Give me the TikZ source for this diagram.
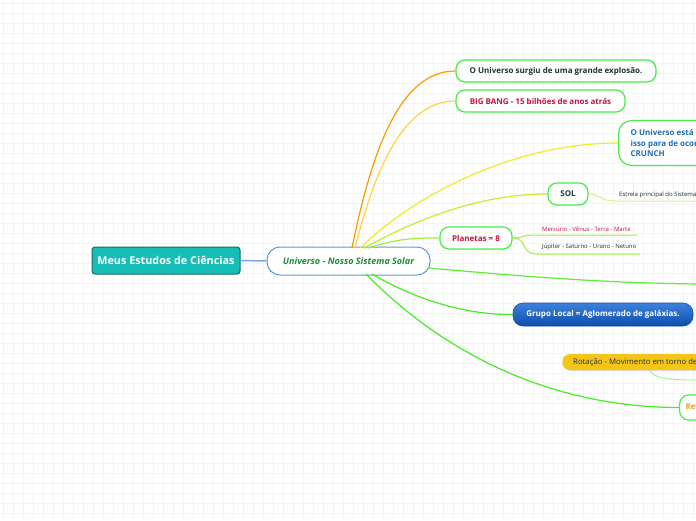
\documentclass[tikz,border=0pt]{standalone}
\usepackage{fontspec}
\setmainfont{Open Sans}
\usetikzlibrary{shadows}
\definecolor{gridc}{HTML}{F4F4F4}
\definecolor{tealfill}{HTML}{15BFB6}
\definecolor{tealdraw}{HTML}{0F6E69}
\definecolor{mainblue}{HTML}{5B9BD5}
\definecolor{linkblue}{HTML}{7AA6F0}
\definecolor{scriptgreen}{HTML}{1B8C3A}
\definecolor{boxgreen}{HTML}{44EE44}
\definecolor{darktxt}{HTML}{1E3535}
\definecolor{crimson}{HTML}{C8123F}
\definecolor{bluetxt}{HTML}{1D6DB5}
\definecolor{corange}{HTML}{FF9A00}
\definecolor{cgold}{HTML}{FFD23F}
\definecolor{cyellow}{HTML}{EEEE22}
\definecolor{cyg}{HTML}{C4EE30}
\definecolor{clg}{HTML}{A2EE40}
\definecolor{cgreen}{HTML}{5EEE38}
\definecolor{cgreen2}{HTML}{44EE22}
\definecolor{subline}{HTML}{DDEE88}
\definecolor{rotfill}{HTML}{F5C518}
\definecolor{gtop}{HTML}{3C82DC}
\definecolor{gbot}{HTML}{0E4DAE}
\definecolor{orangetxt}{HTML}{F0A030}
\tikzset{
  rootbox/.style={draw=tealdraw, line width=1pt, fill=tealfill, rounded corners=3pt,
    text=white, font=\fontsize{10.8}{12}\selectfont\bfseries, minimum width=148pt, minimum height=27pt, inner sep=0pt},
  mainbox/.style={draw=mainblue, line width=1pt, fill=white, rounded corners=13pt,
    text=scriptgreen, font=\fontsize{9}{11}\selectfont\itshape\bfseries, minimum width=163pt, minimum height=28pt, inner sep=0pt},
  topicbox/.style={draw=boxgreen, line width=1.2pt, fill=white, rounded corners=9pt,
    font=\fontsize{8}{10.5}\selectfont\bfseries, inner sep=0pt, minimum height=22pt},
  subtext/.style={font=\fontsize{6}{7}\selectfont, inner sep=0pt, anchor=south west},
  link/.style={line width=1.2pt},
}
\begin{document}
\begin{tikzpicture}[x=1pt,y=-1pt]
\useasboundingbox (0,0) rectangle (696,520);
\clip (0,0) rectangle (696,520);
\fill[white] (0,0) rectangle (696,520);
\draw[gridc, line width=0.4pt] foreach \i in {3,13,...,523} {(0,\i) -- (696,\i)};
\draw[gridc, line width=0.4pt] foreach \i in {3,13,...,703} {(\i,0) -- (\i,520)};

\coordinate (mt1) at (352,248);
\coordinate (mt2) at (355,248);
\coordinate (mt3) at (360,248);
\coordinate (mt4) at (364,248);
\coordinate (mt5) at (368,248);
\coordinate (mr) at (428,268);
\coordinate (mb1) at (372,274);
\coordinate (mb2) at (366,274);
\coordinate (edge1) at (700,284);

% nodes
\node[rootbox] (root) at (166,260.5) {Meus Estudos de Ciências};
\node[mainbox] (main) at (348.5,261) {Universo - Nosso Sistema Solar};

\node[topicbox, text=darktxt, minimum width=200pt] (n1) at (556,71) {O Universo surgiu de uma grande explosão.};
\node[topicbox, text=crimson, minimum width=169pt] (n2) at (540.5,101) {BIG BANG - 15 bilhões de anos atrás};
\node[topicbox, text=bluetxt, minimum height=45pt, align=left, anchor=west, inner xsep=12pt, rounded corners=13pt] (n3) at (618,143) {O Universo está em expansão, mas há quem diga\\isso para de ocorrer no BIG\\CRUNCH};
\node[topicbox, text=darktxt, minimum width=40pt] (sol) at (568,194) {SOL};
\node[topicbox, text=crimson, minimum width=72pt] (plan) at (476,238) {Planetas = 8};
\node[draw=gbot, line width=0.6pt, top color=gtop, bottom color=gbot, rounded corners=10pt,
      text=white, font=\fontsize{8}{10}\selectfont\bfseries, minimum width=180pt, minimum height=23pt, inner sep=0pt] (grupo) at (603,314.5) {Grupo Local = Aglomerado de galáxias.};
\node[fill=rotfill, rounded corners=8pt, drop shadow={opacity=0.25, shadow xshift=0.5pt, shadow yshift=-1pt},
      text=darktxt, font=\fontsize{7.8}{9}\selectfont, minimum height=16pt, inner sep=0pt, inner xsep=11pt, anchor=west] (rot) at (562,362) {Rotação - Movimento em torno de si mesmo};
\node[topicbox, text=orangetxt, minimum height=25pt, anchor=west, inner xsep=6pt] (rev) at (679,407.5) {Revolução};

% sub texts
\node[subtext, text=darktxt] (s1) at (619,198.5) {Estrela principal do Sistema Solar};
\node[subtext, text=crimson] (m1) at (542,231.5) {Mercúrio - Vênus - Terra - Marte};
\node[subtext, text=darktxt] (m2) at (542,250.5) {Júpiter - Saturno - Urano - Netuno};
\coordinate (u1a) at (615,201);
\coordinate (u2a) at (537,235);
\coordinate (u2b) at (637,235);
\coordinate (u3a) at (537,254);
\coordinate (u3b) at (640,254);
\coordinate (rota) at (650,371);
\coordinate (rotb) at (700,380);

% connectors
\draw[linkblue, line width=1.5pt] (root.east) -- (main.west);
\draw[link, corange] (mt1) .. controls (372,150) and (400,71) .. (n1.west);
\draw[link, cgold] (mt2) .. controls (376,165) and (405,101) .. (n2.west);
\draw[link, cyellow] (mt3) .. controls (420,190) and (520,143) .. (n3.west);
\draw[link, cyg] (mt4) .. controls (430,212) and (490,194) .. (sol.west);
\draw[link, clg] (mt5) .. controls (400,238) and (415,238) .. (plan.west);
\draw[link, cgreen] (mr) .. controls (520,276) and (600,283) .. (edge1);
\draw[link, cgreen2] (mb1) .. controls (420,302) and (470,315) .. (grupo.west);
\draw[link, cgreen2] (mb2) .. controls (450,360) and (560,407.5) .. (rev.west);

\draw[subline, line width=1pt] (sol.east) .. controls (600,194) and (600,201) .. (u1a) -- (700,201);
\draw[clg, line width=1pt] (plan.east) .. controls (525,238) and (520,235) .. (u2a) -- (u2b);
\draw[clg, line width=1pt] (plan.east) .. controls (528,238) and (520,254) .. (u3a) -- (u3b);
\draw[cgreen!70, line width=0.8pt] (rota) .. controls (655,380) and (680,380) .. (rotb);
\end{tikzpicture}
\end{document}
